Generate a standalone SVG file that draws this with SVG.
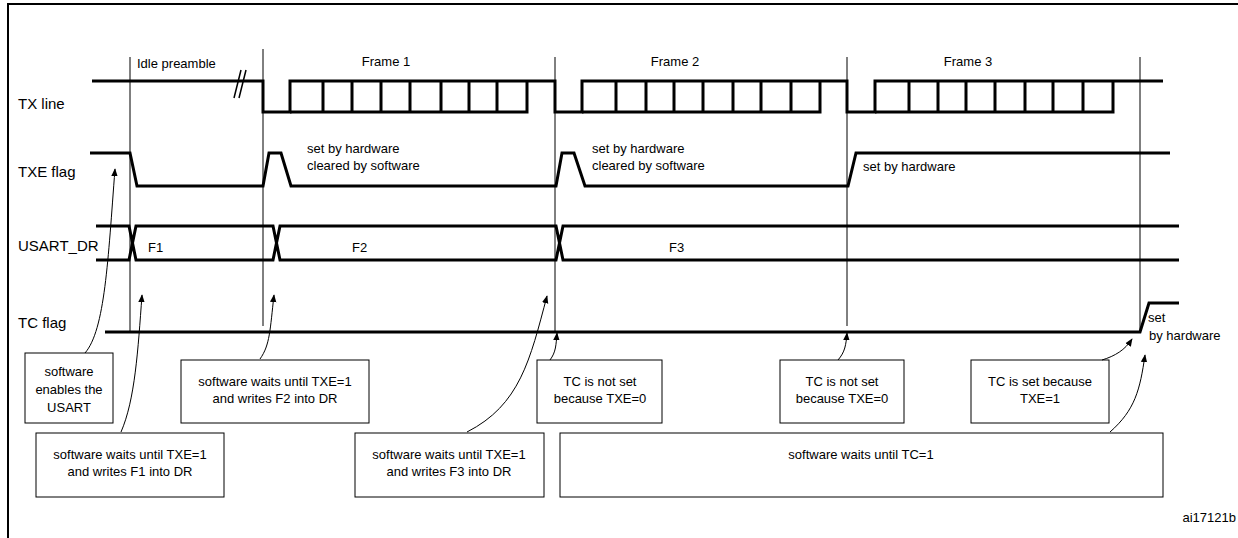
<svg xmlns="http://www.w3.org/2000/svg" width="1238" height="538" viewBox="0 0 1238 538">
<style>
text{font-family:"Liberation Sans",Arial,sans-serif;font-size:13px;fill:#000}
.lbl{font-size:15px}
.sig{fill:none;stroke:#000;stroke-width:3}
.guide{stroke:#000;stroke-width:1}
.box rect{fill:#fff;stroke:#000;stroke-width:1}
.box text{text-anchor:middle}
.arr{fill:none;stroke:#000;stroke-width:1;marker-end:url(#ah)}
</style>
<defs>
<marker id="ah" viewBox="0 0 10 10" refX="9" refY="5" markerWidth="8" markerHeight="8" orient="auto" markerUnits="userSpaceOnUse"><path d="M0,1 L10,5 L0,9 z" fill="#000"/></marker>
</defs>
<rect x="8" y="4" width="1250" height="560" fill="#fff" stroke="#000" stroke-width="2"/>
<g id="guides">
<line class="guide" x1="130" y1="57" x2="130" y2="332"/>
<line class="guide" x1="263" y1="49" x2="263" y2="326"/>
<line class="guide" x1="555" y1="57" x2="555" y2="332"/>
<line class="guide" x1="847" y1="57" x2="847" y2="326"/>
<line class="guide" x1="1140" y1="57" x2="1140" y2="332"/>
</g>
<g id="labels">
<text class="lbl" x="18" y="109">TX line</text>
<text class="lbl" x="18" y="177">TXE flag</text>
<text class="lbl" x="18" y="251">USART_DR</text>
<text class="lbl" x="18" y="328">TC flag</text>
<text x="137" y="68">Idle preamble</text>
<text x="386" y="66" text-anchor="middle">Frame 1</text>
<text x="675" y="66" text-anchor="middle">Frame 2</text>
<text x="968" y="66" text-anchor="middle">Frame 3</text>
<text x="307" y="153">set by hardware</text>
<text x="307" y="170">cleared by software</text>
<text x="592" y="153">set by hardware</text>
<text x="592" y="170">cleared by software</text>
<text x="863" y="171">set by hardware</text>
<text x="148" y="252">F1</text>
<text x="352" y="252">F2</text>
<text x="669" y="252">F3</text>
<text x="1148" y="322">set</text>
<text x="1149" y="340">by hardware</text>
<text x="1236" y="522" text-anchor="end">ai17121b</text>
</g>
<g id="tx">
<path class="sig" d="M92,81 H263 V112 H290 V81 H555 V112 H582 V81 H847 V112 H875 V81 H1163"/>
<path class="sig" d="M290,112 H527 V81 M323,81 V112 M352,81 V112 M381,81 V112 M410,81 V112 M441,81 V112 M469,81 V112 M497,81 V112"/>
<path class="sig" d="M582,112 H820 V81 M616,81 V112 M646,81 V112 M674,81 V112 M703,81 V112 M733,81 V112 M761,81 V112 M791,81 V112"/>
<path class="sig" d="M875,112 H1113 V81 M909,81 V112 M938,81 V112 M966,81 V112 M995,81 V112 M1025,81 V112 M1053,81 V112 M1083,81 V112"/>
<path d="M234,98 L241,70 M239,98 L246,70" stroke="#000" stroke-width="1.5"/>
</g>
<g id="txe">
<path class="sig" d="M90,153 H130 L137,186 H263 L269,153 H281 L291,186 H556 L562,153 H574 L585,186 H848 L856,153 H1170"/>
</g>
<g id="dr">
<path class="sig" d="M96,226 H129 L136,260 H273 L280,226 H556 L563,260 H1179 M96,260 H129 L136,226 H273 L280,260 H556 L563,226 H1179"/>
</g>
<g id="tc">
<path class="sig" d="M105,332 H1140 L1149,303 H1179"/>
</g>
<g id="box-enable" class="box"><rect x="25" y="353" width="88" height="70"/><text x="69" y="376">software</text><text x="69" y="394">enables the</text><text x="69" y="412">USART</text></g>
<g id="box-f2" class="box"><rect x="181" y="360" width="188" height="63"/><text x="275" y="386">software waits until TXE=1</text><text x="275" y="403">and writes F2 into DR</text></g>
<g id="box-f1" class="box"><rect x="36" y="433" width="188" height="64"/><text x="130" y="459">software waits until TXE=1</text><text x="130" y="476">and writes F1 into DR</text></g>
<g id="box-f3" class="box"><rect x="355" y="433" width="189" height="64"/><text x="449" y="459">software waits until TXE=1</text><text x="449" y="476">and writes F3 into DR</text></g>
<g id="box-tc1" class="box"><rect x="537" y="360" width="125" height="63"/><text x="600" y="386">TC is not set</text><text x="600" y="403">because TXE=0</text></g>
<g id="box-tc2" class="box"><rect x="780" y="360" width="124" height="63"/><text x="842" y="386">TC is not set</text><text x="842" y="403">because TXE=0</text></g>
<g id="box-tc3" class="box"><rect x="971" y="360" width="138" height="63"/><text x="1040" y="386">TC is  set because</text><text x="1040" y="403">TXE=1</text></g>
<g id="box-tc" class="box"><rect x="560" y="433" width="603" height="64"/><text x="861" y="459">software waits until TC=1</text></g>
<g id="connectors">
<path class="arr" d="M85,353 C105,330 108,260 115,169"/>
<path class="arr" d="M121,432 C135,400 138,350 142,295"/>
<path class="arr" d="M260,359 C270,345 270,330 274,295"/>
<path class="arr" d="M467,432 C520,405 530,360 547,296"/>
<path class="arr" d="M550,360 C556,352 556,345 557,333"/>
<path class="arr" d="M838,360 C845,352 846,345 847,333"/>
<path class="arr" d="M1102,360 C1115,356 1125,350 1132,339"/>
<path class="arr" d="M1110,432 C1135,410 1140,390 1145,355"/>
</g>
</svg>
